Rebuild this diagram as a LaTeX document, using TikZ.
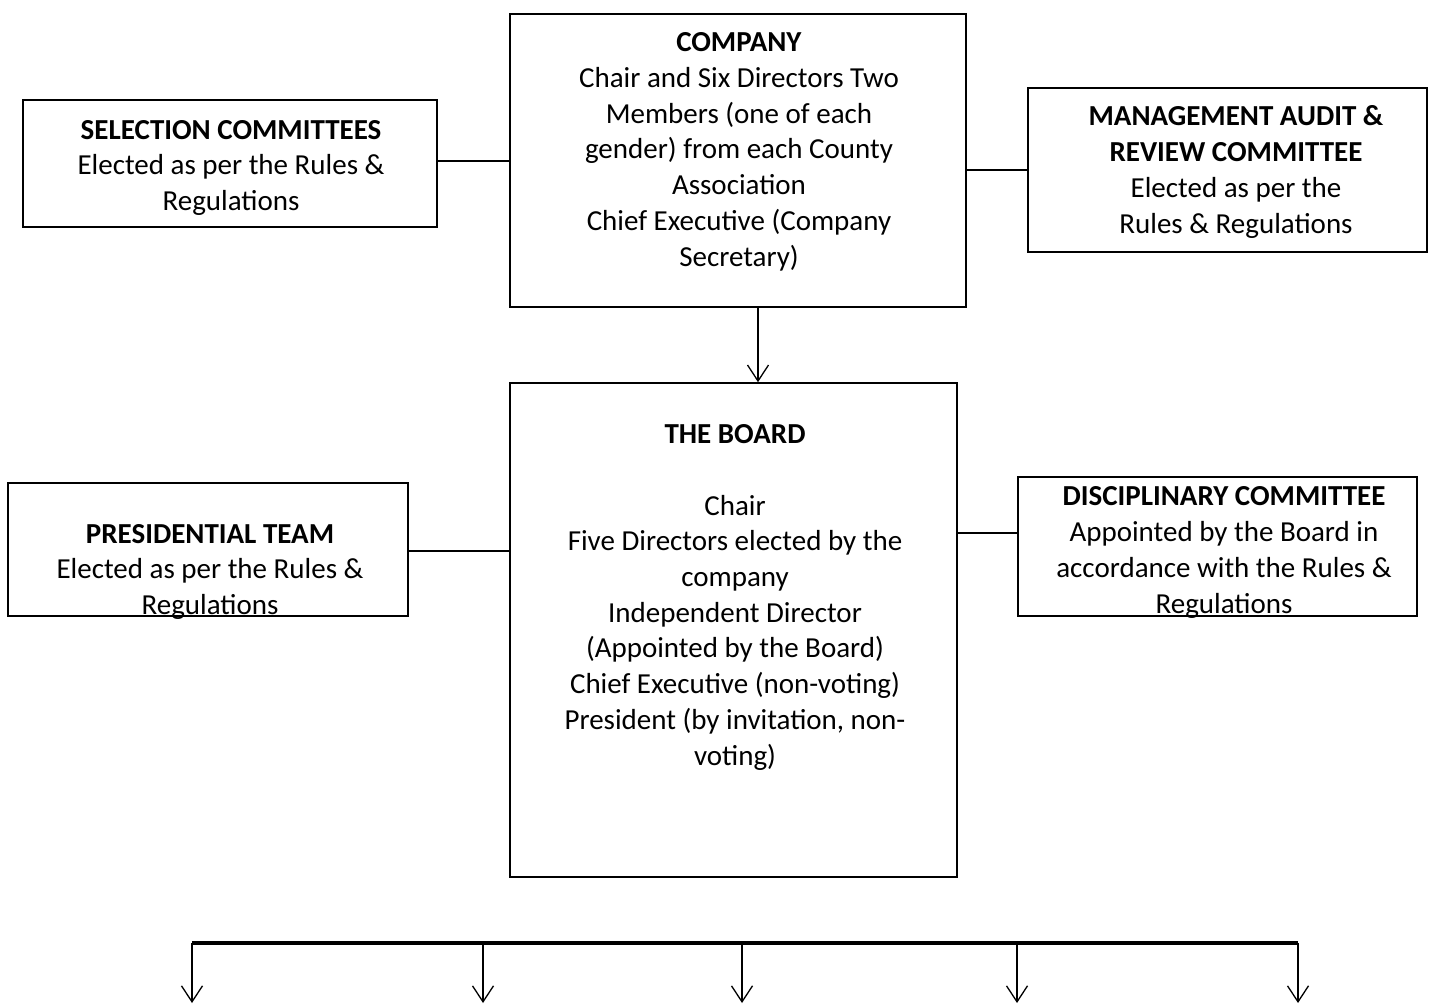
\documentclass[tikz,border=0pt]{standalone}
\usepackage{fontspec}
\setmainfont{Carlito}
\usetikzlibrary{arrows.meta}
\begin{document}
\begin{tikzpicture}[x=1pt,y=-1pt,
  box/.style={draw=black, line width=1.6pt, rectangle, inner sep=0pt},
  txt/.style={anchor=base, align=center, inner sep=0pt, font=\fontsize{29}{35.7}\selectfont},
  conn/.style={draw=black, line width=2.2pt},
  arr/.style={draw=black, line width=1.3pt, -{Straight Barb[length=16pt,width=21pt,line width=1.3pt]}},
  bus/.style={draw=black, line width=3.5pt}
]
\useasboundingbox (0,0) rectangle (1429,1005);
% boxes
\node[box, minimum width=456pt, minimum height=293pt] (company) at (738,160.5) {};
\node[box, minimum width=414pt, minimum height=127pt] (selection) at (230,163.5) {};
\node[box, minimum width=399pt, minimum height=164pt] (mgmt) at (1227.5,170) {};
\node[box, minimum width=447pt, minimum height=494pt] (board) at (733.5,630) {};
\node[box, minimum width=400pt, minimum height=133pt] (pres) at (208,549.5) {};
\node[box, minimum width=399pt, minimum height=139pt] (disc) at (1217.5,546.5) {};
% texts (anchor base = baseline of last line)
\node[txt] (companyt) at (739,266) {\textbf{COMPANY}\\Chair and Six Directors Two\\Members (one of each\\gender) from each County\\Association\\Chief Executive (Company\\Secretary)};
\node[txt] (selectiont) at (231,210.4) {\textbf{SELECTION COMMITTEES}\\Elected as per the Rules \&\\Regulations};
\node[txt] (mgmtt) at (1236,233) {\textbf{MANAGEMENT AUDIT \&}\\\textbf{REVIEW COMMITTEE}\\Elected as per the\\Rules \& Regulations};
\node[txt] (boardt) at (735,765) {\textbf{THE BOARD}\\[35.7pt]Chair\\Five Directors elected by the\\company\\Independent Director\\(Appointed by the Board)\\Chief Executive (non-voting)\\President (by invitation, non-\\voting)};
\node[txt] (prest) at (210,614.4) {\textbf{PRESIDENTIAL TEAM}\\Elected as per the Rules \&\\Regulations};
\node[txt] (disct) at (1224,613) {\textbf{DISCIPLINARY COMMITTEE}\\Appointed by the Board in\\accordance with the Rules \&\\Regulations};
% connectors
\draw[conn] ([yshift=2.5pt]selection.east) -- ([yshift=2.5pt]selection.east -| company.west);
\draw[conn] (mgmt.west) -- (mgmt.west -| company.east);
\draw[conn] ([yshift=-1.5pt]pres.east) -- ([yshift=-1.5pt]pres.east -| board.west);
\draw[conn] ([yshift=13.5pt]disc.west) -- ([yshift=13.5pt]disc.west -| board.east);
\draw[arr] ([xshift=20pt]company.south) -- ([xshift=20pt]company.south |- board.north);
% bus
\coordinate (busL) at (192,943);
\coordinate (busR) at (1298,943);
\draw[bus] (busL) -- (busR);
\foreach \x [count=\i] in {192,483,742,1017,1298} {
  \coordinate (top\i) at (\x,943);
  \coordinate (tip\i) at (\x,1003);
  \draw[arr] (top\i) -- (tip\i);
}
\end{tikzpicture}
\end{document}
